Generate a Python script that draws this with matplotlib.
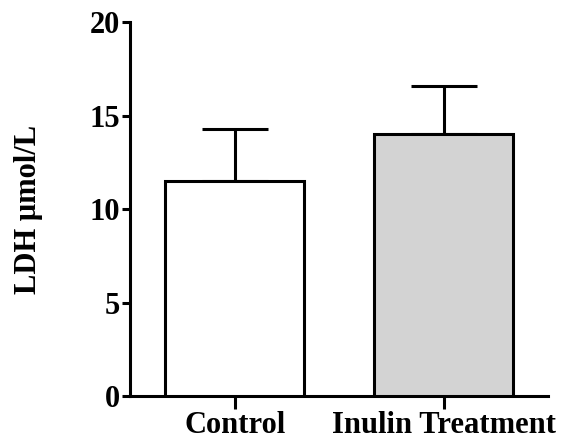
import matplotlib
matplotlib.use("Agg")
import matplotlib.pyplot as plt

# values
groups = ["Control", "Inulin Treatment"]
means = [11.5, 14.0]
sem = [2.8, 2.6]
colors = ["white", "#d3d3d3"]

plt.rcParams["font.family"] = ["Liberation Serif", "DejaVu Serif"]
plt.rcParams["font.weight"] = "bold"

fig = plt.figure(figsize=(5.61, 4.41), dpi=100)
ax = fig.add_axes([0.232, 0.102, 0.745, 0.848])

x = range(len(groups))
ax.bar(x, means, width=0.665, color=colors, edgecolor="black", linewidth=2.2, zorder=3)
ax.errorbar(x, means, yerr=[[0, 0], sem], fmt="none", ecolor="black",
            elinewidth=2.2, capsize=24, capthick=2.2, zorder=2)

ax.set_xlim(-0.5, 1.5)
ax.set_ylim(0, 20)
ax.set_yticks([0, 5, 10, 15, 20])
ax.set_xticks(list(x))
ax.set_xticklabels(groups, fontsize=22, fontweight="bold")
ax.set_ylabel("LDH μmol/L", fontsize=22, fontweight="bold", labelpad=34)

for s in ["top", "right"]:
    ax.spines[s].set_visible(False)
for s in ["left", "bottom"]:
    ax.spines[s].set_linewidth(2.2)
ax.tick_params(axis="y", length=6, width=2.2, labelsize=22, pad=1)
ax.tick_params(axis="x", length=9, width=2.2, labelsize=22, pad=2)
for lab in ax.get_yticklabels():
    lab.set_fontweight("bold")

fig.savefig("out.png", dpi=100)
